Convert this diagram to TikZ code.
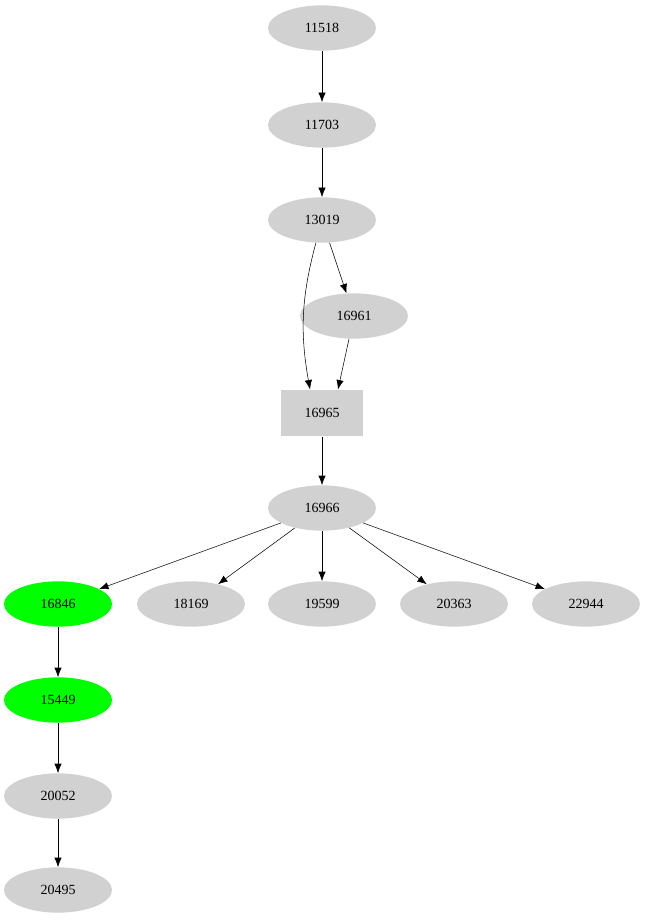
\documentclass[tikz,border=0pt]{standalone}
\usepackage{fontspec}
\setmainfont{Liberation Serif}
\usetikzlibrary{arrows.meta,shapes.geometric}
\tikzset{
  gnode/.style={ellipse,fill=black!18,minimum width=81pt,minimum height=34pt,inner sep=0pt,font=\fontsize{10.5}{12}\selectfont},
  hot/.style={gnode,fill=green},
  boxn/.style={rectangle,fill=black!18,minimum width=61pt,minimum height=35pt,inner sep=0pt,font=\fontsize{10.5}{12}\selectfont}
}
\begin{document}
\begin{tikzpicture}[x=0.75pt,y=-0.75pt,>={Latex[length=7pt,width=5.5pt]}]
\useasboundingbox (0,0) rectangle (646,923);
\path
(322,28)  node[gnode] (a) {11518}
(322,125) node[gnode] (b) {11703}
(322,220) node[gnode] (c) {13019}
(354,316) node[gnode] (d) {16961}
(322,413) node[boxn]  (e) {16965}
(322,508) node[gnode] (f) {16966}
(58,604)  node[hot]   (g1) {16846}
(191,604) node[gnode] (g2) {18169}
(322,604) node[gnode] (g3) {19599}
(454,604) node[gnode] (g4) {20363}
(586,604) node[gnode] (g5) {22944}
(58,700)  node[hot]   (h) {15449}
(58,796)  node[gnode] (i) {20052}
(58,890)  node[gnode] (j) {20495};
\draw[->] (a)--(b);
\draw[->] (b)--(c);
\draw[->] (c)--(d);
\draw[->] (c.255) to[out=255,in=100] (e.north west -| 310,0);
\draw[->] (d)--(e.north -| 338,0);
\draw[->] (e)--(f);
\foreach \k in {g1,g2,g3,g4,g5} \draw[->] (f)--(\k);
\draw[->] (g1)--(h);
\draw[->] (h)--(i);
\draw[->] (i)--(j);
\end{tikzpicture}
\end{document}
